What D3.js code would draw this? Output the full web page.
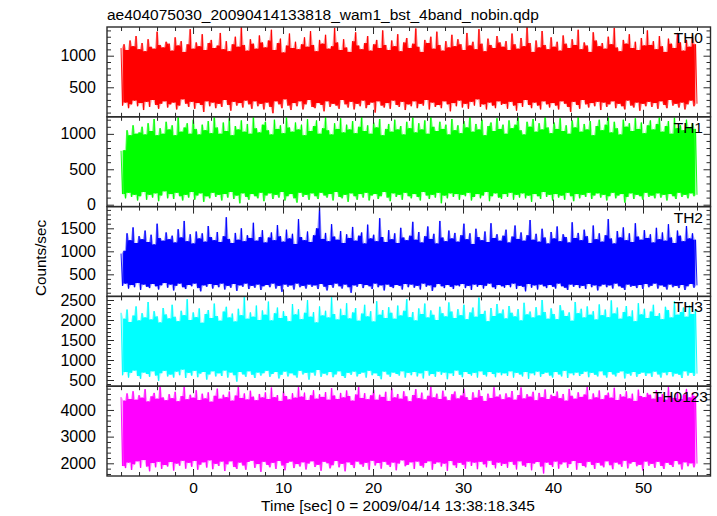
<!DOCTYPE html>
<html><head><meta charset="utf-8">
<script src="https://cdn.jsdelivr.net/npm/d3@7"></script>
<style>body{margin:0;background:#fff} text{font-family:"Liberation Sans",Arial,Helvetica,sans-serif;fill:#000}</style>
</head><body><svg id="c" width="717" height="516"></svg>
<script>
const TITLE = "ae404075030_20090414133818_wam1_bst_4band_nobin.qdp";
const X_LABEL = "Time [sec] 0 = 2009/04/14 13:38:18.345";
const Y_LABEL = "Counts/sec";
const TIME_START = -8, TIME_END = 56;
const xMajorTicks = [0,10,20,30,40,50];
const xMinorStep = 2;
const panelNames = ["TH0","TH1","TH2","TH3","TH0123"];

const th0 = [1120,210,1180,260,1090,170,1240,230,1150,290,1310,200,1100,250,1200,140,1070,270,1260,190,1140,300,1110,220,1380,160,1170,240,1130,280,1220,180,
1190,230,1080,260,1290,150,1160,210,1230,310,1060,240,1180,190,1420,270,1110,160,1210,250,1150,220,1340,110,1090,280,1200,200,1250,260,1120,170,
1160,240,1360,190,1100,300,1230,220,1070,130,1180,270,1300,210,1140,250,1450,180,1170,290,1080,230,1260,160,1190,280,1110,200,1320,240,1210,150,
1130,260,1240,190,1410,90,1090,280,1200,230,1270,170,1050,310,1160,210,1350,140,1120,250,1220,200,1100,280,1180,150,1290,230,1140,300,1390,190,
1170,170,1070,250,1250,220,1190,120,1330,280,1110,190,1150,240,1440,210,1210,160,1090,300,1260,230,1130,180,1060,270,1230,150,1370,240,1160,200,
1100,290,1200,170,1310,220,1080,260,1180,100,1250,280,1120,210,1400,180,1170,250,1090,160,1240,290,1150,220,1340,190,1070,270,1210,140,1280,230,
1120,200,1190,280,1430,170,1140,240,1060,210,1250,300,1200,150,1300,260,1110,190,1380,220,1170,170,1080,280,1230,230,1130,120,1330,250,1150,200,
1260,290,1180,180,1090,240,1360,160,1160,270,1220,210,1100,310,1420,190,1190,230,1070,150,1270,260,1170,210,1120,170,1310,280,1210,220,1140,240,
1230,160,1090,270,1350,210,1180,130,1110,250,1280,190,1150,300,1450,220,1200,170,1060,260,1240,210,1130,150,1390,280,1170,230,1100,180,1290,250,
1140,210,1220,150,1080,280,1320,240,1190,190,1120,110,1260,270,1170,220,1410,160,1100,300,1210,230,1160,180,1060,250,1370,200,1240,270,1150,140,
1200,260,1110,190,1300,230,1180,280,1440,170,1130,240,1070,200,1250,150,1190,290,1340,210,1120,180,1220,260,1090,130,1280,240,1160,200,1400,270,
1170,190,1230,250,1100,160,1310,280,1150,220,1060,170,1270,300,1190,210,1120,240,1360,180,1210,260,1080,150,1250,230,1140,290,1320,200,1180,240];

const th1 = [760,150,770,90,1050,170,980,110,1120,140,1000,60,1020,120,1100,180,990,70,1150,140,1040,100,1210,160,980,50,1080,130,1000,190,1170,90,
1060,150,1120,80,980,170,1240,120,1030,60,1090,140,1150,100,1000,180,1200,70,1070,130,990,160,1130,40,1050,120,1180,90,1010,170,1240,110,
1090,140,1000,60,1160,150,1040,100,1220,180,980,80,1110,130,1060,20,1190,160,1030,110,1140,70,1000,150,1240,120,1080,90,1020,170,1130,50,
1170,130,1050,160,990,80,1200,140,1070,100,1120,180,1010,60,1240,120,1090,150,1030,90,1160,30,1060,170,1130,110,980,140,1210,70,1040,160,
1110,120,1190,80,1000,170,1080,130,1240,100,1050,150,990,60,1150,180,1070,110,1220,90,1020,140,1130,40,1060,160,1180,120,1010,70,1100,150,
1240,100,1040,170,1120,60,1000,130,1160,150,1090,80,1210,120,980,180,1070,100,1140,50,1030,160,1200,110,1060,140,1110,70,990,170,1170,120,
1080,90,1230,150,1020,110,1150,60,1060,180,1190,130,1000,80,1240,140,1100,100,1040,170,1170,20,1070,130,1130,90,990,160,1210,110,1050,150,
1120,70,1010,140,1180,120,1090,170,1240,60,1030,110,1140,150,1060,90,1200,130,980,180,1110,50,1160,120,1040,160,1220,100,1070,80,1130,150,
1000,110,1190,170,1080,70,1130,140,1240,100,1050,160,990,90,1170,130,1100,40,1210,150,1030,120,1150,80,1060,180,1240,110,1090,140,1010,60,
1160,150,1070,100,1220,130,1040,70,1120,170,1000,120,1190,50,1090,150,1240,90,1030,140,1140,110,1060,170,1180,80,980,130,1110,160,1200,100,
1050,140,1130,60,1240,120,1020,170,1170,90,1080,130,990,150,1200,30,1100,110,1150,160,1040,80,1220,140,1070,120,1160,70,1010,170,1120,110,
1190,130,1060,90,1140,160,1240,100,1030,140,1110,60,1180,150,1000,120,1230,80,1080,170,1120,110,1050,140,1200,90,1090,160,1150,120,1070,140];

const th2 = [950,250,1010,300,1390,190,1240,270,1520,220,1180,310,1330,160,1260,280,1450,230,1200,200,1360,290,1150,240,1600,170,1290,260,1230,310,1410,210,
1260,280,1340,150,1190,250,1480,300,1300,220,1660,180,1220,270,1370,240,1170,300,1430,200,1280,130,1390,260,1210,230,1550,290,1310,190,1240,270,
1420,220,1200,300,1330,170,1740,250,1270,210,1180,290,1400,140,1250,260,1500,230,1220,300,1350,180,1290,250,1620,210,1230,280,1310,160,1460,240,
1190,270,1300,220,1410,300,1240,190,1570,250,1330,120,1210,280,1470,230,1280,260,1380,170,1160,300,1700,220,1310,250,1240,190,1430,280,1200,230,
1350,260,1500,180,1960,290,1270,230,1400,150,1220,270,1590,210,1320,300,1250,240,1440,190,1180,280,1370,220,1290,100,1530,260,1230,230,1340,290,
1410,200,1170,270,1580,240,1280,180,1360,300,1220,220,1720,260,1310,150,1200,280,1460,230,1260,200,1390,270,1180,250,1510,170,1300,290,1240,220,
1340,280,1640,210,1250,250,1420,170,1190,300,1330,230,1540,260,1270,140,1380,220,1170,290,1660,240,1300,200,1220,270,1450,230,1280,180,1400,260,
1210,240,1350,290,1600,200,1260,250,1390,160,1160,280,1490,230,1310,270,1240,190,1430,250,1200,300,1610,220,1290,180,1370,270,1230,240,1340,210,
1470,270,1190,220,1320,300,1560,180,1270,250,1410,230,1230,130,1350,290,1680,210,1250,260,1380,170,1210,280,1490,240,1300,200,1170,270,1420,230,
1280,190,1540,300,1220,240,1370,210,1310,160,1190,280,1630,230,1290,270,1400,200,1240,250,1470,180,1330,290,1180,220,1560,260,1260,150,1390,240,
1210,280,1350,220,1700,260,1280,190,1170,300,1440,240,1300,210,1520,160,1240,280,1390,230,1200,250,1610,200,1320,270,1250,180,1460,290,1290,220,
1370,250,1190,300,1510,190,1260,260,1410,230,1230,170,1590,280,1300,220,1180,250,1450,200,1340,270,1220,160,1550,240,1280,290,1390,210,1250,260];

const th3 = [2180,620,2030,700,2260,560,1950,680,2110,740,2340,600,1990,530,2170,690,2060,650,2450,580,2010,720,2220,610,2090,480,1940,670,2300,730,2140,590,
2040,640,2380,560,2080,710,1970,620,2230,760,2120,550,2520,680,2000,610,2190,730,2070,570,2290,660,1930,700,2150,510,2250,640,2050,720,2410,590,
2100,670,1980,600,2210,740,2330,560,2060,690,2160,620,1960,460,2280,700,2120,640,2590,580,2030,720,2190,630,2080,550,2360,690,2000,610,2240,670,
2130,730,2460,580,1990,650,2170,700,2310,540,2050,630,2220,710,2100,590,1970,670,2400,620,2140,560,2270,730,2020,640,2180,680,2500,510,2080,690,
2200,610,1940,750,2340,580,2110,660,2230,620,2060,700,2570,570,2150,640,2010,720,2280,600,2120,550,2420,680,2040,630,2190,710,2300,590,1980,650,
2160,690,2380,560,2090,730,2220,620,1960,670,2470,600,2130,520,2250,710,2050,640,2320,580,2180,690,2030,650,2360,610,2110,720,2230,560,2520,680,
2070,620,2200,700,1990,590,2290,670,2150,540,2410,730,2060,610,2240,650,2130,580,2000,710,2330,630,2170,690,2090,520,2440,670,2210,600,2050,740,
2270,630,2120,570,2380,700,2020,650,2190,610,2310,680,2080,560,2560,720,2150,630,2230,590,1970,700,2300,650,2100,570,2400,690,2160,620,2260,670,
2040,600,2350,720,2180,560,2090,680,2270,640,1990,590,2430,700,2140,530,2210,670,2060,620,2320,710,2110,580,2500,650,2200,690,2030,610,2290,560,
2150,700,2020,640,2370,590,2240,730,2100,550,2190,670,1980,620,2450,690,2170,600,2280,650,2060,710,2340,570,2130,680,2220,630,2010,590,2390,720,
2120,620,2260,560,2070,700,2490,640,2160,590,2310,680,2030,720,2200,540,2350,660,2090,610,2240,700,1970,580,2420,650,2140,690,2280,600,2050,670,
2210,580,2380,710,2100,640,2170,560,2020,690,2330,620,2250,700,2060,590,2470,660,2130,630,2200,550,2310,720,2080,610,2360,680,2150,600,2270,660];

const th0123 = [4480,1900,4350,1820,4620,2030,4410,1750,4700,1960,4380,2080,4550,1830,4460,2120,4780,1880,4320,1700,4510,2010,4640,1850,4420,2060,4860,1790,4470,1940,4360,1880,
4590,2050,4440,1730,4680,1990,4330,1910,4520,2100,4880,1800,4400,2020,4570,1870,4460,2090,4740,1760,4370,1950,4610,2040,4430,1840,4660,2110,4310,1780,4530,1980,
4800,1900,4420,2070,4570,1710,4480,1960,4690,2080,4350,1860,4540,1790,4890,2030,4450,1920,4620,1760,4390,2050,4720,2100,4500,1830,4360,1970,4600,1680,4470,2060,
4660,1940,4410,1850,4840,2020,4480,1790,4560,2090,4340,1920,4710,1740,4520,2010,4390,2070,4630,1820,4460,1970,4880,1880,4500,2040,4650,1770,4370,1990,4550,2080,
4740,1860,4420,1950,4590,1720,4490,2060,4670,2000,4380,1810,4820,1930,4540,2090,4410,1850,4640,1980,4470,1700,4730,2040,4520,1940,4350,1820,4580,2070,4870,1960,
4450,1870,4630,2020,4400,1760,4550,2100,4760,1920,4380,2010,4570,1800,4490,2060,4680,1950,4340,1860,4810,2030,4470,1740,4600,1990,4420,2110,4700,1890,4510,1940,
4330,2040,4560,1790,4780,2070,4440,1910,4650,1840,4390,2010,4530,2080,4870,1760,4470,1980,4610,2040,4410,1880,4720,1990,4500,1720,4360,2090,4590,1930,4690,1830,
4430,2020,4540,1950,4800,1800,4480,2070,4370,1900,4660,2030,4460,1780,4750,2060,4520,1960,4340,1850,4610,2100,4450,1940,4850,1810,4500,2030,4580,1900,4400,1980,
4620,1830,4470,2060,4710,1950,4380,1770,4560,2080,4840,1920,4430,1860,4590,2010,4500,1740,4680,1990,4360,2050,4640,1880,4480,1620,4770,2030,4410,1940,4570,1860,
4510,2070,4690,1800,4440,1960,4600,2040,4350,1830,4790,1970,4530,2090,4420,1760,4660,2010,4490,1900,4580,1850,4870,2060,4390,1940,4620,1790,4470,2020,4730,1920,
4400,1850,4550,2080,4650,1930,4460,1780,4830,2030,4370,1960,4590,1870,4500,2100,4700,1810,4430,1990,4610,2050,4340,1890,4760,1950,4520,1730,4480,2070,4640,1910,
4570,1980,4420,1830,4740,2060,4490,1900,4600,1790,4380,2020,4860,1940,4530,1860,4450,2090,4680,1960,4410,1770,4580,2040,4790,1890,4470,2000,4640,1850,4520,1990];

const series = [th0, th1, th2, th3, th0123];
const yDomains = [[33,1454],[-27,1241],[20,1972],[345,2590],[1524,4891]];
const yMajorTicks = [[500,1000],[0,500,1000],[500,1000,1500],[500,1000,1500,2000,2500],[2000,3000,4000]];
const yMinorStep = [100,100,100,100,200];
const colors = ["#ff0000","#00ff00","#0000ff","#00ffff","#ff00ff"];
const labelEnd = [703,703,703,703,708];

const svg = d3.select("#c");
const L = 107, R = 710.5, T = 27, B = 476;
const ph = (B - T) / series.length;
const x = d3.scaleLinear().domain([-9.56, 57.5]).range([L, R]);
const frameColor = "#2a2a2a";
const FS = 15.5;

const xMinor = d3.range(Math.ceil(x.domain()[0]/xMinorStep)*xMinorStep, x.domain()[1], xMinorStep)
  .filter(v => !xMajorTicks.includes(v));

function styleTicks(a){ a.select(".domain").remove(); a.selectAll("line").attr("stroke", frameColor); }

series.forEach((vals, p) => {
  const top = T + p*ph, bot = top + ph;
  const n = vals.length;
  const step = (TIME_END - TIME_START) / (n - 1);
  const tOf = i => TIME_START + i*step;
  const y = d3.scaleLinear().domain(yDomains[p]).range([bot, top]);
  const g = svg.append("g");
  const cid = "clip" + p;
  svg.append("clipPath").attr("id", cid).append("rect")
    .attr("x", L).attr("y", top).attr("width", R - L).attr("height", ph);
  const area = d3.area().x(d => x(d.t)).y0(d => y(d.lo)).y1(d => y(d.hi));
  // light fringe: extent of each segment between consecutive samples
  const segs = d3.range(n - 1).map(i => ({t: tOf(i + 0.5),
    lo: Math.min(vals[i], vals[i+1]), hi: Math.max(vals[i], vals[i+1])}));
  g.append("path").datum(segs).attr("clip-path", `url(#${cid})`)
    .attr("d", area).attr("fill", colors[p]).attr("fill-opacity", 0.4);
  // solid core of the dense trace: 2nd-highest / 2nd-lowest sample in a 4-sample window
  const core = d3.range(1, n - 2).map(i => {
    const w = vals.slice(i - 1, i + 3).sort(d3.ascending);
    return {t: tOf(i + 0.5), lo: w[1], hi: w[2]};
  });
  g.append("path").datum(core).attr("clip-path", `url(#${cid})`)
    .attr("d", area).attr("fill", colors[p]);
  const line = d3.line().x((d,i) => x(tOf(i))).y(d => y(d));
  g.append("path").datum(vals).attr("clip-path", `url(#${cid})`)
    .attr("d", line).attr("fill", "none").attr("stroke", colors[p]).attr("stroke-width", 0.9);

  const minor = d3.range(Math.ceil(yDomains[p][0]/yMinorStep[p])*yMinorStep[p], yDomains[p][1], yMinorStep[p])
    .filter(v => !yMajorTicks[p].includes(v));
  const axL = g.append("g").attr("transform", `translate(${L},0)`)
    .call(d3.axisLeft(y).tickValues(yMajorTicks[p]).tickSize(-7).tickPadding(11).tickFormat(d3.format("d")));
  styleTicks(axL);
  axL.selectAll("text").attr("font-size", 16).attr("font-family", null).attr("fill", "#000");
  g.append("g").attr("transform", `translate(${L},0)`)
    .call(d3.axisLeft(y).tickValues(minor).tickSize(-4).tickFormat("")).call(styleTicks);
  g.append("g").attr("transform", `translate(${R},0)`)
    .call(d3.axisRight(y).tickValues(yMajorTicks[p]).tickSize(-7).tickFormat("")).call(styleTicks);
  g.append("g").attr("transform", `translate(${R},0)`)
    .call(d3.axisRight(y).tickValues(minor).tickSize(-4).tickFormat("")).call(styleTicks);

  [[top, d3.axisTop], [bot, d3.axisBottom]].forEach(([yy, ax]) => {
    g.append("g").attr("transform", `translate(0,${yy})`)
      .call(ax(x).tickValues(xMajorTicks).tickSize(-7).tickFormat("")).call(styleTicks);
    g.append("g").attr("transform", `translate(0,${yy})`)
      .call(ax(x).tickValues(xMinor).tickSize(-4).tickFormat("")).call(styleTicks);
  });

  g.append("rect").attr("x", L).attr("y", top).attr("width", R - L).attr("height", ph)
    .attr("fill", "none").attr("stroke", frameColor).attr("stroke-width", 1.4);

  g.append("text").attr("x", labelEnd[p]).attr("y", top + 16).attr("text-anchor", "end")
    .attr("font-size", FS).text(panelNames[p]);
});

const axB = svg.append("g").attr("transform", `translate(0,${B})`)
  .call(d3.axisBottom(x).tickValues(xMajorTicks).tickSize(0).tickPadding(6).tickFormat(d3.format("d")));
axB.select(".domain").remove();
axB.selectAll("text").attr("font-size", FS).attr("font-family", null).attr("fill", "#000");

svg.append("text").attr("x", L).attr("y", 20).attr("font-size", 15.5).text(TITLE);
svg.append("text").attr("x", 398).attr("y", 510.5).attr("text-anchor", "middle")
  .attr("font-size", FS).text(X_LABEL);
svg.append("text").attr("transform", "translate(46,258) rotate(-90)").attr("text-anchor", "middle")
  .attr("font-size", 15.2).text(Y_LABEL);
</script></body></html>
